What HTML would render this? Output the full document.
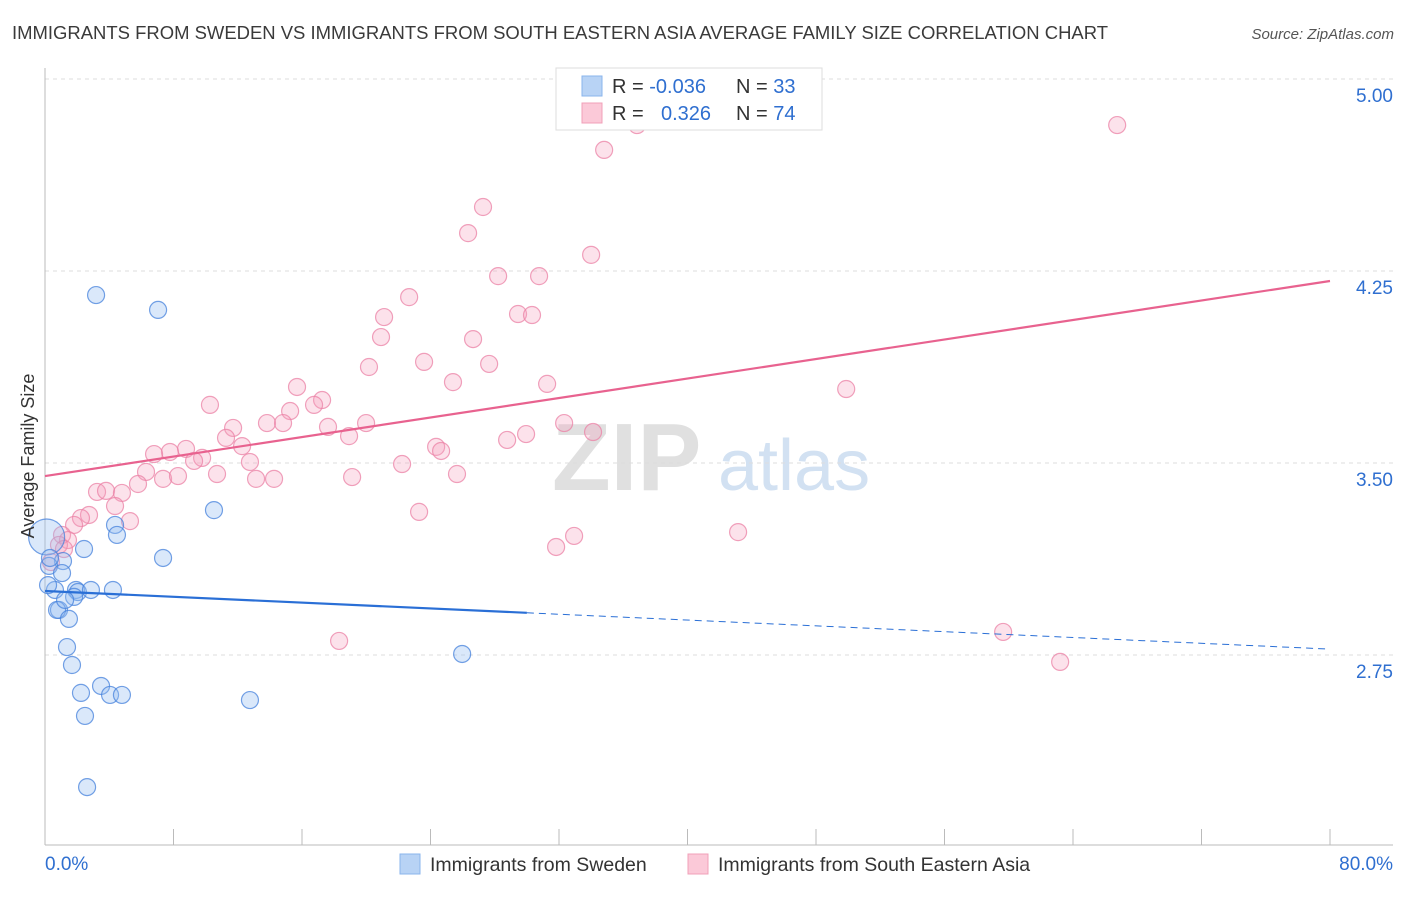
<!DOCTYPE html>
<html><head><meta charset="utf-8"><style>
body{margin:0;background:#fff;font-family:"Liberation Sans",sans-serif;}
svg text{font-family:"Liberation Sans",sans-serif;}
</style></head><body>
<svg id="chart" width="1406" height="892" xmlns="http://www.w3.org/2000/svg">
<text x="12" y="39" font-size="18" fill="#3a3a3a" textLength="1096" lengthAdjust="spacingAndGlyphs">IMMIGRANTS FROM SWEDEN VS IMMIGRANTS FROM SOUTH EASTERN ASIA AVERAGE FAMILY SIZE CORRELATION CHART</text>
<text x="1394" y="39" font-size="15" fill="#555" text-anchor="end" font-style="italic">Source: ZipAtlas.com</text>
<g>
<text x="552" y="490" font-size="96" fill="#e0e0e0" font-family="Liberation Serif" font-weight="bold">ZIP</text>
<text x="718" y="490" font-size="72" fill="#d2e1f2">atlas</text>
</g>
<g id="grid"></g>
<g id="axes"></g>
<g id="pink"></g>
<g id="blue"></g>
<g id="trends"></g>
<text transform="translate(34,456) rotate(-90)" font-size="18" fill="#333" text-anchor="middle">Average Family Size</text>
<g>
<rect x="556" y="68" width="266" height="62" fill="#fff" stroke="#ddd"/>
<rect x="582" y="76" width="20" height="20" fill="#b8d3f5" stroke="#8ab4ec"/>
<rect x="582" y="103" width="20" height="20" fill="#fbc9d8" stroke="#f0a0b8"/>
<text x="612" y="93" font-size="20" fill="#333">R = <tspan fill="#2f6fd0">-0.036</tspan></text>
<text x="736" y="93" font-size="20" fill="#333">N = <tspan fill="#2f6fd0">33</tspan></text>
<text x="612" y="120" font-size="20" fill="#333">R = </text>
<text x="661" y="120" font-size="20" fill="#2f6fd0">0.326</text>
<text x="736" y="120" font-size="20" fill="#333">N = <tspan fill="#2f6fd0">74</tspan></text>
</g>
<g>
<rect x="400" y="854" width="20" height="20" fill="#b8d3f5" stroke="#8ab4ec"/>
<text x="430" y="871" font-size="19.5" fill="#333">Immigrants from Sweden</text>
<rect x="688" y="854" width="20" height="20" fill="#fbc9d8" stroke="#f0a0b8"/>
<text x="718" y="871" font-size="19.5" fill="#333">Immigrants from South Eastern Asia</text>
</g>
</svg>
<script>
const yTicks=[5.00,4.25,3.50,2.75];
const xTickLabels=["0.0%","80.0%"];
const blueX=[3.18,7.04,10.52,4.36,4.48,7.35,2.43,1.12,0.25,0.62,1.06,1.93,2.05,2.86,4.23,1.81,0.87,0.75,1.49,1.37,1.68,2.24,3.49,4.05,4.79,2.49,12.76,25.97,2.62,0.1,0.31,1.25,0.19];
const blueY=[4.156,4.098,3.316,3.258,3.219,3.129,3.164,3.117,3.098,3.004,3.070,3.004,2.996,3.004,3.004,2.977,2.926,2.926,2.891,2.781,2.711,2.602,2.629,2.594,2.594,2.512,2.574,2.754,2.234,3.211,3.129,2.965,3.023];
const pinkX=[36.86,34.81,66.75,27.27,26.34,34.00,28.21,30.76,22.67,29.45,30.32,21.11,20.92,26.65,23.60,20.17,27.65,15.69,25.40,31.26,49.88,10.27,17.25,16.75,15.26,19.99,13.82,11.71,14.82,17.62,32.32,34.12,18.93,29.95,28.77,11.27,24.35,24.66,8.78,12.27,7.78,6.79,9.78,9.28,12.76,22.23,6.29,7.35,8.28,10.71,13.14,14.26,19.12,25.65,5.79,3.24,3.80,4.79,4.36,23.29,2.74,5.29,2.24,1.81,43.15,32.94,31.82,1.06,1.43,0.87,1.18,0.37,18.31,59.65,63.20];
const pinkY=[4.820,4.723,4.820,4.500,4.398,4.313,4.230,4.230,4.148,4.082,4.078,4.070,3.992,3.984,3.895,3.875,3.887,3.797,3.816,3.809,3.789,3.727,3.746,3.727,3.703,3.656,3.656,3.637,3.656,3.641,3.656,3.621,3.605,3.613,3.590,3.598,3.563,3.547,3.555,3.566,3.543,3.535,3.520,3.508,3.504,3.496,3.465,3.438,3.449,3.457,3.438,3.438,3.445,3.457,3.418,3.387,3.391,3.383,3.332,3.309,3.297,3.273,3.285,3.258,3.230,3.215,3.172,3.219,3.199,3.180,3.164,3.113,2.805,2.840,2.723];
const blueTrend=[3.000,2.773];
const pinkTrend=[3.449,4.211];
const NS="http://www.w3.org/2000/svg";
const xs=v=>45+v*1285/80;
const ys=v=>463-(v-3.5)*256;
function mk(tag,attrs,parent){const e=document.createElementNS(NS,tag);for(const k in attrs)e.setAttribute(k,attrs[k]);parent.appendChild(e);return e;}
const grid=document.getElementById('grid'),axes=document.getElementById('axes');
yTicks.forEach(t=>{
 const l=mk('line',{x1:45,x2:1393,y1:ys(t),y2:ys(t),stroke:'#ddd','stroke-dasharray':'4,4'},grid);
 
 
 const tx=mk('text',{x:1393,y:ys(t)+23,'font-size':19,fill:'#2f6fd0','text-anchor':'end'},axes);
 tx.textContent=t.toFixed(2);
 
 
});
mk('line',{x1:45,x2:45,y1:68,y2:845,stroke:'#bbb'},axes);
mk('line',{x1:45,x2:1393,y1:845,y2:845,stroke:'#bbb'},axes);
for(let k=1;k<=10;k++){const t=mk('line',{x1:xs(k*8),x2:xs(k*8),y1:829,y2:845,stroke:'#bbb'},axes);
 
 }
const xl0=mk('text',{x:45,y:870,'font-size':19,fill:'#2f6fd0'},axes);xl0.textContent=xTickLabels[0];


const xl1=mk('text',{x:1393,y:870,'font-size':19,fill:'#2f6fd0','text-anchor':'end'},axes);xl1.textContent=xTickLabels[1];


const pg=document.getElementById('pink');
pinkX.forEach((x,i)=>{const c=mk('circle',{cx:xs(x),cy:ys(pinkY[i]),r:8.5,fill:'rgba(245,160,188,0.3)',stroke:'rgba(235,130,165,0.75)','stroke-width':1.2},pg);
 
 });
const bg=document.getElementById('blue');
blueX.forEach((x,i)=>{const c=mk('circle',{cx:xs(x),cy:ys(blueY[i]),r:i==29?18:8.5,fill:'rgba(150,190,240,0.35)',stroke:'rgba(70,130,220,0.75)','stroke-width':1.2},bg);
 
 });
const tg=document.getElementById('trends');
const bAt=x=>blueTrend[0]+(blueTrend[1]-blueTrend[0])*x/80;
const b1=mk('line',{x1:xs(0),y1:ys(bAt(0)),x2:xs(30),y2:ys(bAt(30)),stroke:'#2a6fd6','stroke-width':2.2},tg);


const b2=mk('line',{x1:xs(30),y1:ys(bAt(30)),x2:xs(80),y2:ys(bAt(80)),stroke:'#2a6fd6','stroke-width':1,'stroke-dasharray':'7,5'},tg);


const p1=mk('line',{x1:xs(0),y1:ys(pinkTrend[0]),x2:xs(80),y2:ys(pinkTrend[1]),stroke:'#e8628f','stroke-width':2.2},tg);


</script>
</body></html>
